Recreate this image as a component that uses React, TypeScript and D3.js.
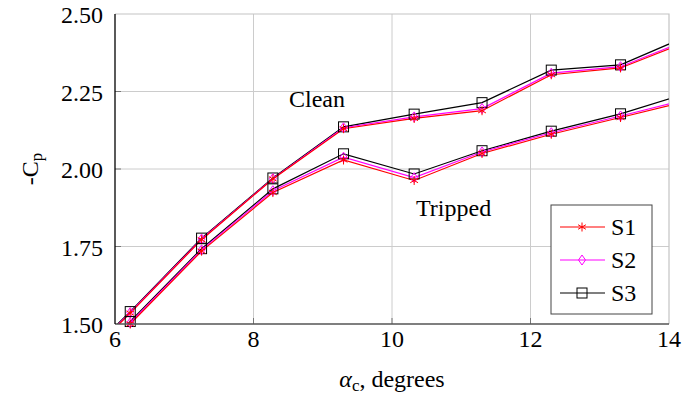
import React, { useRef, useEffect } from 'react';
import * as d3 from 'd3';

// angle of attack (degrees); the first and last points fall just outside the axis range
const alpha = [5.2, 6.22, 7.25, 8.28, 9.3, 10.32, 11.3, 12.3, 13.3, 14.32];

const cleanS1 = [1.31, 1.535, 1.772, 1.968, 2.13, 2.163, 2.188, 2.304, 2.326, 2.416];
const cleanS2 = [1.313, 1.537, 1.774, 1.969, 2.133, 2.168, 2.195, 2.309, 2.33, 2.421];
const cleanS3 = [1.316, 1.54, 1.777, 1.971, 2.136, 2.177, 2.214, 2.319, 2.336, 2.434];

const trippedS1 = [1.27, 1.5, 1.735, 1.924, 2.029, 1.963, 2.05, 2.112, 2.166, 2.222];
const trippedS2 = [1.275, 1.504, 1.739, 1.93, 2.038, 1.972, 2.055, 2.117, 2.171, 2.228];
const trippedS3 = [1.28, 1.508, 1.743, 1.936, 2.049, 1.984, 2.059, 2.122, 2.178, 2.248];

const xTicks = [6, 8, 10, 12, 14];
const yTicks = [1.5, 1.75, 2.0, 2.25, 2.5];
const seriesNames = ['S1', 'S2', 'S3'];

const WIDTH = 684;
const HEIGHT = 396;
const FONT = "'Liberation Serif', 'DejaVu Serif', 'Noto Serif', 'Times New Roman', Times, FreeSerif, serif";

const App: React.FC = () => {
  const svgRef = useRef<SVGSVGElement>(null);

  useEffect(() => {
    if (!svgRef.current) return;
    const svg = d3.select(svgRef.current);
    svg.selectAll('*').remove();

    const x = d3.scaleLinear().domain([6, 14]).range([115, 669]);
    const y = d3.scaleLinear().domain([1.5, 2.5]).range([324, 14]);
    const [x0, x1] = x.range();
    const [y0, y1] = y.range();

    const styles = [
      { name: 'S1', color: '#ff0000', mark: 'asterisk' },
      { name: 'S2', color: '#ff00ff', mark: 'diamond' },
      { name: 'S3', color: '#000000', mark: 'square' },
    ];
    const groups = [
      [cleanS1, cleanS2, cleanS3],
      [trippedS1, trippedS2, trippedS3],
    ];

    svg.append('defs').append('clipPath').attr('id', 'plot-clip')
      .append('rect')
      .attr('x', x0).attr('y', y1)
      .attr('width', x1 - x0).attr('height', y0 - y1);

    // grid
    xTicks.slice(1, -1).forEach(t => {
      svg.append('line')
        .attr('x1', x(t)).attr('x2', x(t)).attr('y1', y1).attr('y2', y0)
        .attr('stroke', '#cccccc').attr('stroke-width', 1);
    });
    yTicks.slice(1, -1).forEach(t => {
      svg.append('line')
        .attr('x1', x0).attr('x2', x1).attr('y1', y(t)).attr('y2', y(t))
        .attr('stroke', '#cccccc').attr('stroke-width', 1);
    });

    // top / right frame
    svg.append('path')
      .attr('d', `M${x0},${y1}H${x1}V${y0}`)
      .attr('fill', 'none').attr('stroke', '#c4c4c4').attr('stroke-width', 1.2);

    // ticks on the axes
    xTicks.slice(1, -1).forEach(t => {
      svg.append('line')
        .attr('x1', x(t)).attr('x2', x(t)).attr('y1', y0).attr('y2', y0 - 6)
        .attr('stroke', '#777').attr('stroke-width', 1);
    });
    yTicks.slice(1, -1).forEach(t => {
      svg.append('line')
        .attr('x1', x0).attr('x2', x0 + 6).attr('y1', y(t)).attr('y2', y(t))
        .attr('stroke', '#777').attr('stroke-width', 1);
    });

    const line = d3.line<number>()
      .x((_, i) => x(alpha[i]))
      .y(d => y(d));

    const drawMark = (g: d3.Selection<SVGGElement, unknown, null, undefined>,
      mark: string, cx: number, cy: number, color: string) => {
      if (mark === 'square') {
        g.append('rect')
          .attr('x', cx - 5).attr('y', cy - 5).attr('width', 10).attr('height', 10)
          .attr('fill', 'none').attr('stroke', color).attr('stroke-width', 1);
      } else if (mark === 'diamond') {
        g.append('path')
          .attr('d', `M${cx},${cy - 5}L${cx + 3.5},${cy}L${cx},${cy + 5}L${cx - 3.5},${cy}Z`)
          .attr('fill', 'none').attr('stroke', color).attr('stroke-width', 1);
      } else {
        const r = 4.5;
        const p = [90, 30, -30].map(a => {
          const rad = (a * Math.PI) / 180;
          const dx = r * Math.cos(rad);
          const dy = r * Math.sin(rad);
          return `M${cx - dx},${cy + dy}L${cx + dx},${cy - dy}`;
        }).join('');
        g.append('path').attr('d', p)
          .attr('fill', 'none').attr('stroke', color).attr('stroke-width', 1);
      }
    };

    const lines = svg.append('g').attr('clip-path', 'url(#plot-clip)');
    const marks = svg.append('g');
    const order = [2, 1, 0];
    groups.forEach(grp => {
      order.forEach(si => {
        const s = styles[si];
        lines.append('path')
          .datum(grp[si])
          .attr('d', line)
          .attr('fill', 'none')
          .attr('stroke', s.color)
          .attr('stroke-width', 1.2);
      });
    });
    groups.forEach(grp => {
      order.forEach(si => {
        const s = styles[si];
        grp[si].forEach((v, i) => {
          if (alpha[i] < 6 || alpha[i] > 14) return;
          drawMark(marks, s.mark, x(alpha[i]), y(v), s.color);
        });
      });
    });

    // axes
    svg.append('line')
      .attr('x1', x0).attr('x2', x1).attr('y1', y0).attr('y2', y0)
      .attr('stroke', '#555').attr('stroke-width', 1.5);
    svg.append('line')
      .attr('x1', x0).attr('x2', x0).attr('y1', y1).attr('y2', y0)
      .attr('stroke', '#000').attr('stroke-width', 1.3);

    const txt = (sel: d3.Selection<any, unknown, null, undefined>) =>
      sel.attr('font-family', FONT).attr('font-size', 24).attr('fill', '#000');

    // tick labels
    xTicks.forEach(t => {
      txt(svg.append('text'))
        .attr('x', x(t)).attr('y', y0 + 23)
        .attr('text-anchor', 'middle')
        .text(String(t));
    });
    yTicks.forEach(t => {
      txt(svg.append('text'))
        .attr('x', x0 - 12).attr('y', y(t) + 9)
        .attr('text-anchor', 'end')
        .text(t.toFixed(2));
    });

    // axis labels
    const xl = txt(svg.append('text'))
      .attr('x', 392).attr('y', 387)
      .attr('text-anchor', 'middle');
    xl.append('tspan').attr('font-style', 'italic').text('α');
    xl.append('tspan').attr('font-size', 17).attr('dy', 4).text('c');
    xl.append('tspan').attr('dy', -4).text(', degrees');

    const yl = txt(svg.append('text'))
      .attr('transform', 'translate(38,169) rotate(-90)')
      .attr('text-anchor', 'middle');
    yl.append('tspan').text('-C');
    yl.append('tspan').attr('font-size', 17).attr('dy', 4).text('p');

    // annotations
    txt(svg.append('text'))
      .attr('x', 289).attr('y', 107)
      .text('Clean');
    txt(svg.append('text'))
      .attr('x', 416).attr('y', 216)
      .text('Tripped');

    // legend
    const lg = svg.append('g');
    lg.append('rect')
      .attr('x', 551).attr('y', 205).attr('width', 101).attr('height', 109)
      .attr('fill', '#fff').attr('stroke', '#444').attr('stroke-width', 1);
    styles.forEach((s, i) => {
      const ly = 227 + i * 33;
      lg.append('line')
        .attr('x1', 560).attr('x2', 605).attr('y1', ly).attr('y2', ly)
        .attr('stroke', s.color).attr('stroke-width', 1.2);
      drawMark(lg as any, s.mark, 582, ly, s.color);
      txt(lg.append('text'))
        .attr('x', 611).attr('y', ly + 8)
        .text(seriesNames[i]);
    });
  }, []);

  return (
    <svg
      ref={svgRef}
      width={WIDTH}
      height={HEIGHT}
      style={{ position: 'absolute', left: 0, top: 0, background: '#fff' }}
    />
  );
};

export default App;
